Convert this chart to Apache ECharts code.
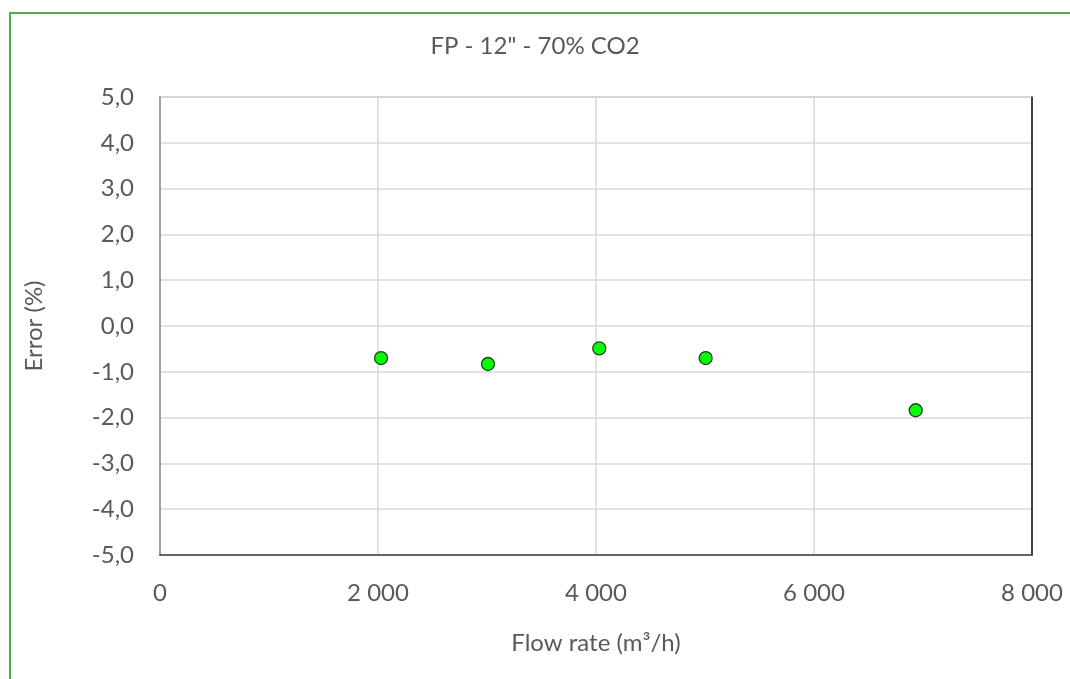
<!DOCTYPE html>
<html lang="en">
<head>
    <meta charset="UTF-8">
    <title>FP - 12" - 70% CO2</title>
    <script src="https://cdn.jsdelivr.net/npm/echarts@6/dist/echarts.min.js"></script>
    <style>
        html, body { margin: 0; padding: 0; background: #fff; }
    </style>
</head>
<body>
<div id="main" style="width: 1070px;height:679px;"></div>

<script type="text/javascript">
    // flow rate (m3/h) and error (%)
    var flowRate = [2028, 3009, 4030, 5006, 6933];
    var errorPct = [-0.70, -0.83, -0.49, -0.70, -1.84];

    var points = flowRate.map(function (x, i) { return [x, errorPct[i]]; });

    var myChart = echarts.init(document.getElementById('main'));
    var font = 'Lato';

    var option = {
        backgroundColor: '#fff',
        animation: false,
        title: {
            text: 'FP - 12" - 70% CO2',
            left: 'center',
            top: 29,
            textStyle: { fontFamily: font, fontSize: 24, fontWeight: 'normal', color: '#595959' }
        },
        graphic: [{
            type: 'rect',
            shape: { x: 10, y: 13, width: 1080, height: 700 },
            style: { fill: 'none', stroke: '#4caf50', lineWidth: 2 },
            silent: true
        }],
        grid: {
            left: 160,
            right: 38,
            top: 97,
            bottom: 124,
            show: true,
            borderColor: '#a0a0a0',
            borderWidth: 1
        },
        xAxis: {
            type: 'value',
            min: 0,
            max: 8000,
            interval: 2000,
            name: 'Flow rate (m³/h)',
            nameLocation: 'middle',
            nameGap: 76,
            nameTextStyle: { fontFamily: font, fontSize: 24, color: '#595959' },
            axisLine: { show: true, onZero: false, lineStyle: { color: '#404040', width: 1.5 } },
            axisTick: { show: false },
            axisLabel: {
                margin: 26,
                fontFamily: font, fontSize: 24, color: '#595959',
                formatter: function (v) { return String(v).replace(/\B(?=(\d{3})+(?!\d))/g, ' '); }
            },
            splitLine: { show: true, lineStyle: { color: '#d9d9d9', width: 1.5 } }
        },
        yAxis: [{
            type: 'value',
            min: -5,
            max: 5,
            interval: 1,
            name: 'Error (%)',
            nameLocation: 'middle',
            nameGap: 114,
            nameRotate: 90,
            nameTextStyle: { fontFamily: font, fontSize: 24, color: '#595959' },
            axisLine: { show: true, onZero: false, lineStyle: { color: '#a0a0a0', width: 2 } },
            axisTick: { show: false },
            axisLabel: {
                margin: 26,
                fontFamily: font, fontSize: 24, color: '#595959',
                formatter: function (v) { return v.toFixed(1).replace('.', ','); }
            },
            splitLine: { show: true, lineStyle: { color: '#d9d9d9', width: 1.5 } }
        }, {
            type: 'value',
            position: 'right',
            min: -5,
            max: 5,
            interval: 1,
            axisLine: { show: true, onZero: false, lineStyle: { color: '#111', width: 1.5 } },
            axisTick: { show: false },
            axisLabel: { show: false },
            splitLine: { show: false }
        }],
        series: [{
            name: 'Error',
            type: 'scatter',
            data: points,
            symbolSize: 13,
            itemStyle: { color: '#00ff00', borderColor: '#2a3a2a', borderWidth: 1.3, opacity: 1 }
        }]
    };

    myChart.setOption(option);
</script>
</body>
</html>
